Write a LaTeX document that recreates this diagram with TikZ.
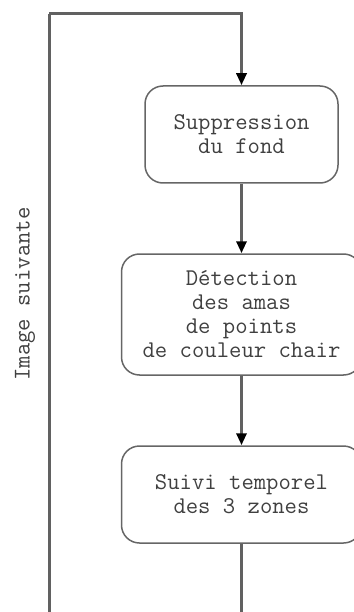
\documentclass[tikz,border=0pt]{standalone}
\usetikzlibrary{arrows.meta}

\tikzset{
  etape/.style={draw=black!60, line width=1.5pt, rounded corners=18pt,
    align=center, text=black!75, inner sep=0pt,
    font=\ttfamily\fontsize{24}{24}\selectfont},
  lien/.style={draw=black!62, line width=3pt},
  fleche/.style={lien, -{Triangle[length=12pt,width=10pt,color=black]}},
}

\begin{document}
\begin{tikzpicture}[x=1pt,y=-1pt]
    \useasboundingbox (0,0) rectangle (353,612);

    % etapes du traitement
    \node[etape, minimum width=193pt, minimum height=97pt] (fond) at (241.5,134.5)
        {Suppression\\du fond};
    \node[etape, minimum width=240pt, minimum height=121pt] (amas) at (241.5,314.5)
        {D\'etection\\des amas\\de points\\de couleur chair};
    \node[etape, minimum width=240pt, minimum height=97pt] (suivi) at (241.5,494.5)
        {Suivi temporel\\des 3 zones};

    % boucle vers l'image suivante
    \coordinate (bas) at (241.5,640);
    \coordinate (coin) at (49,14);
    \draw[lien] (suivi.south) -- (bas) -| (coin);
    \draw[fleche] (coin) -- (coin -| fond.north) -- (fond.north);
    \node[rotate=90, text=black!75, font=\ttfamily\fontsize{24}{24}\selectfont]
        (label) at (25,294) {Image suivante};

    \draw[fleche] (fond) -- (amas);
    \draw[fleche] (amas) -- (suivi);
\end{tikzpicture}
\end{document}
